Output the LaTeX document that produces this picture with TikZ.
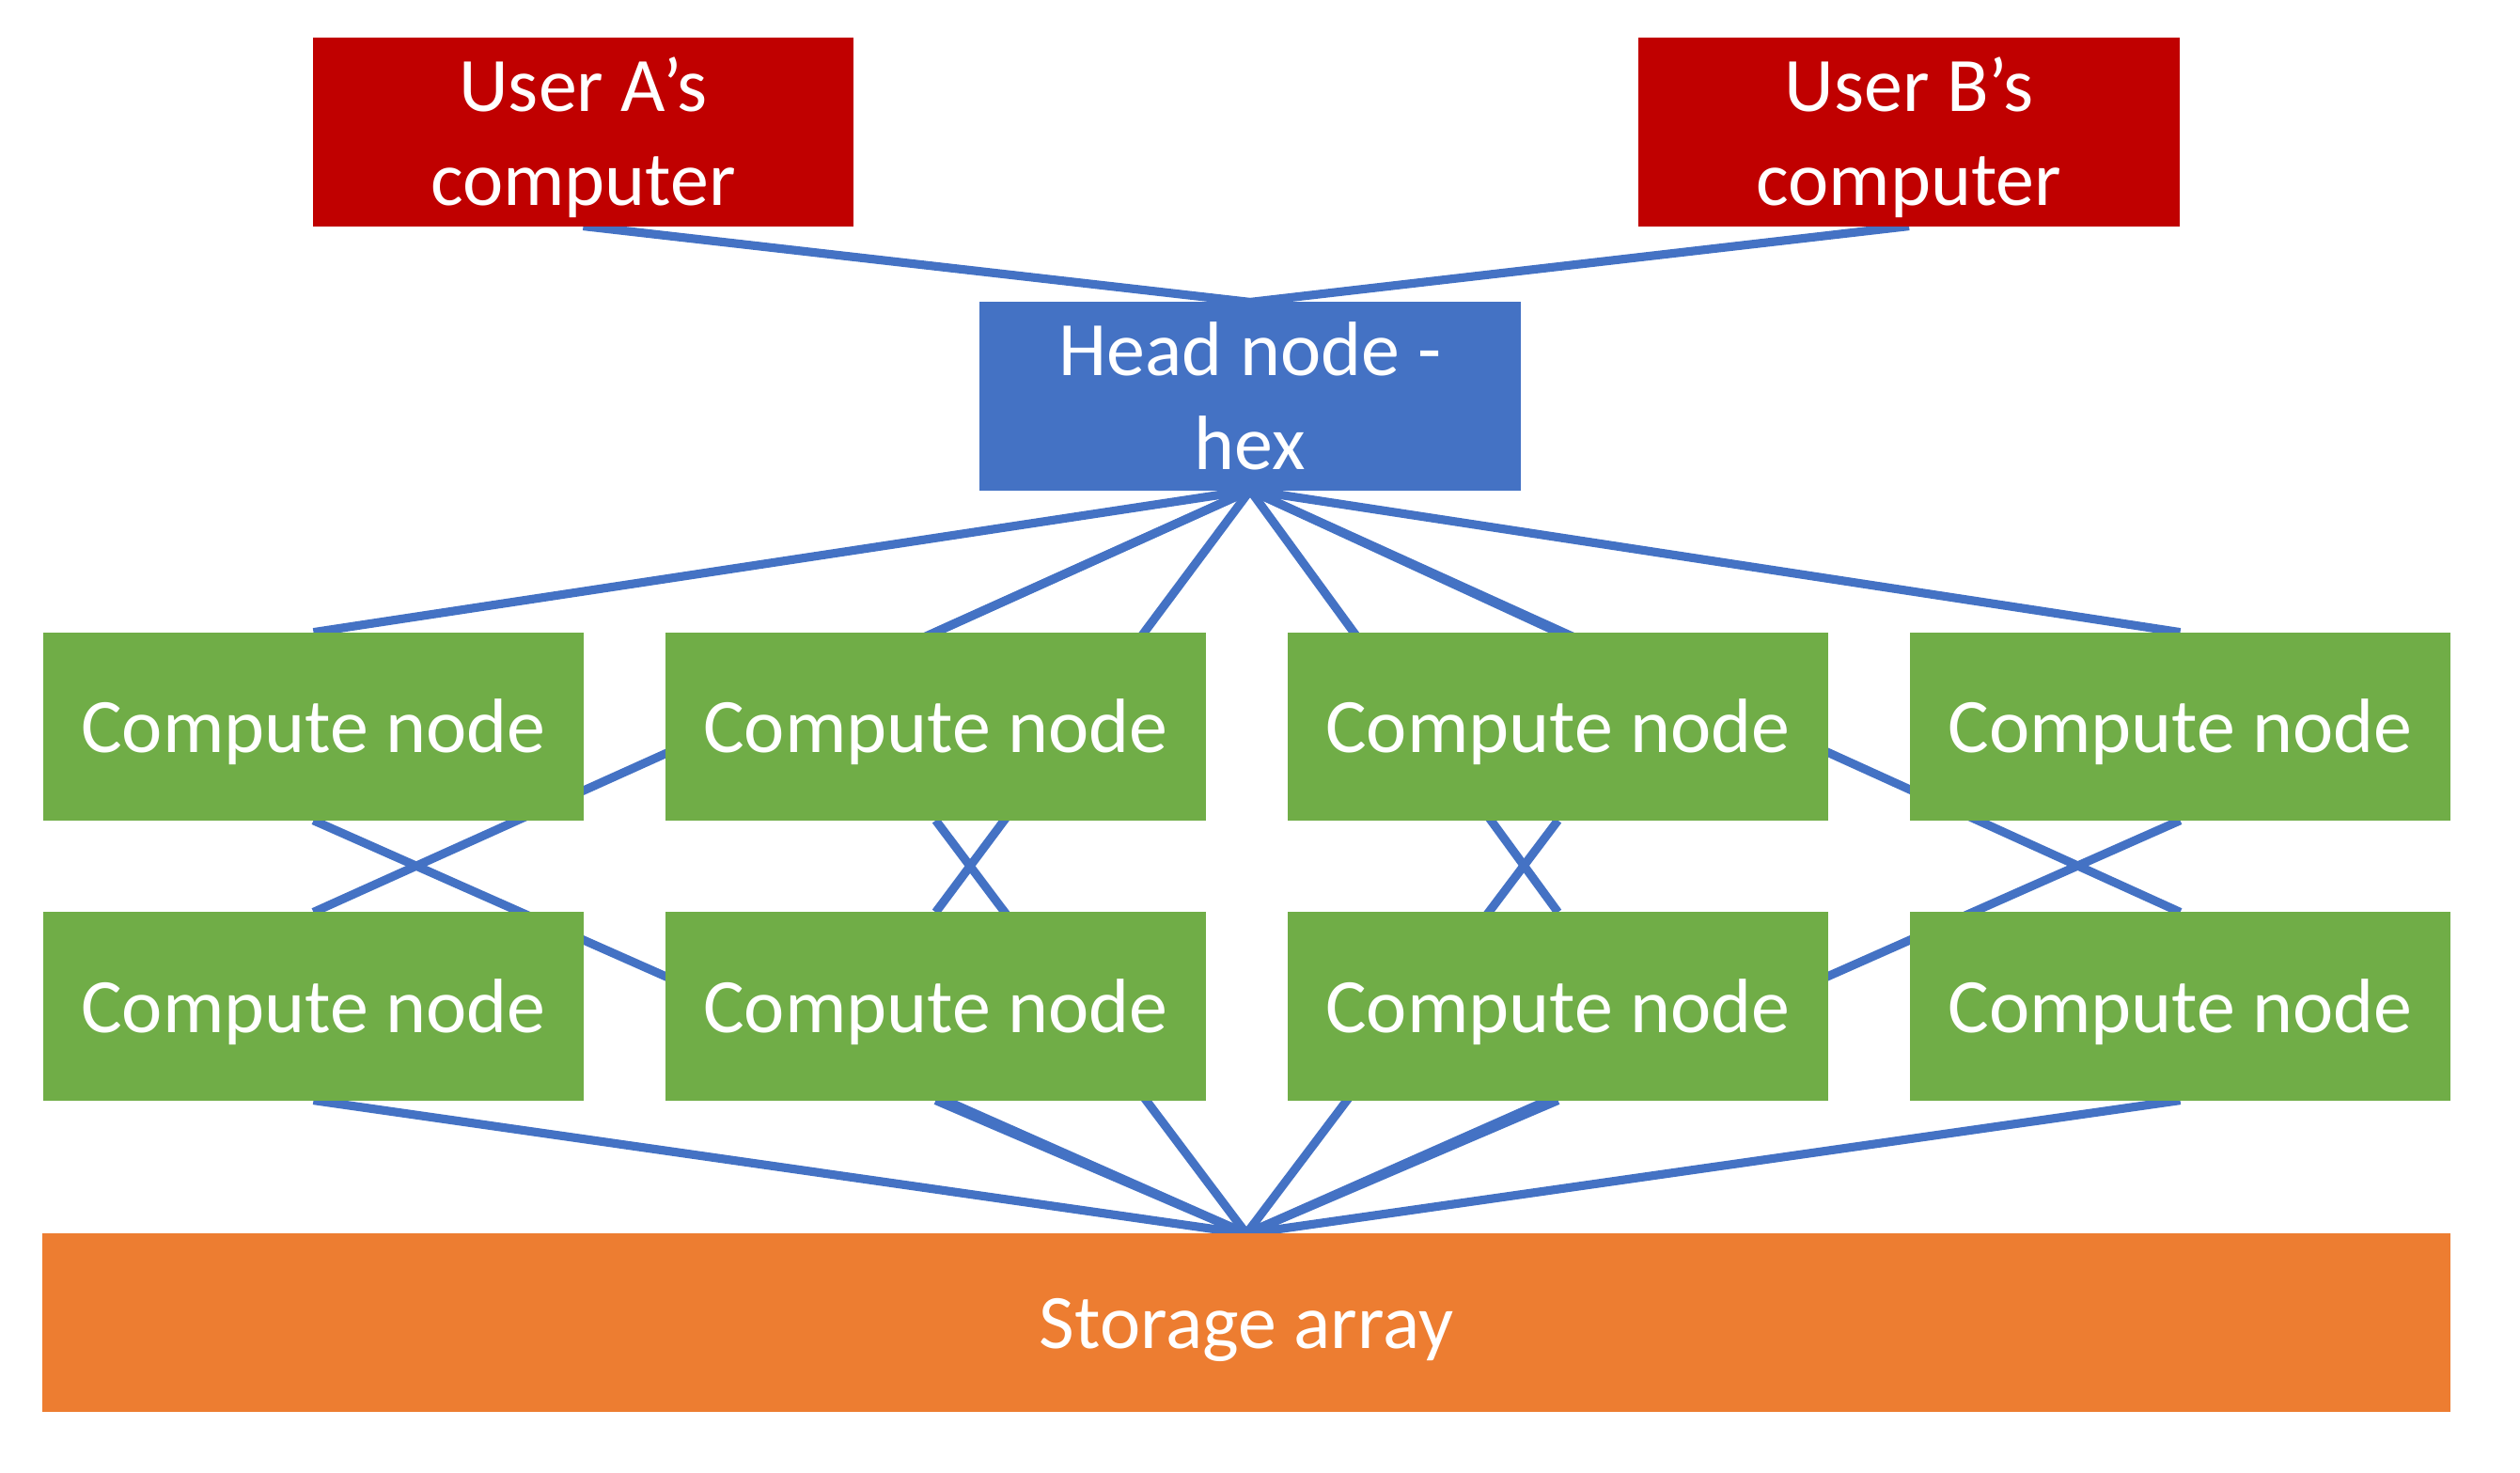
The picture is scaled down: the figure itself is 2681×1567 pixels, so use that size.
\documentclass[tikz,border=0pt]{standalone}
\usepackage{fontspec}
\setmainfont{Carlito}
\usetikzlibrary{backgrounds}

\definecolor{userred}{HTML}{C00000}
\definecolor{headblue}{HTML}{4472C4}
\definecolor{computegreen}{HTML}{70AD47}
\definecolor{storageorange}{HTML}{ED7D31}

% strut for each text line, so lines sit as in the slide
\newcommand{\boxstrut}{\vrule height 21.8pt depth 6pt width 0pt}

\begin{document}
\begin{tikzpicture}[x=0.01cm, y=-0.01cm,
	box/.style={inner sep=0pt, outer sep=0pt, minimum width=5.75cm, minimum height=2cm,
		text=white, align=center, font=\fontsize{23.3}{28.45}\selectfont},
	user/.style={box, fill=userred},
	head/.style={box, fill=headblue},
	compute/.style={box, fill=computegreen},
	storage/.style={box, fill=storageorange, minimum width=25.6cm, minimum height=1.89cm},
	link/.style={draw=headblue, line width=2.6pt}]

	\useasboundingbox (0,0) rectangle (2681,1567);

	\node[user] (userA) at (620.5,140.5) {\boxstrut User A’s\\\boxstrut computer};
	\node[user] (userB) at (2031,140.5)  {\boxstrut User B’s\\\boxstrut computer};
	\node[head] (head)  at (1330,421.5)  {\boxstrut Head node -\\\boxstrut hex};

	\foreach \i/\x in {1/333.5, 2/995.5, 3/1657.5, 4/2319.5} {
		\node[compute] (top\i) at (\x,772.7)  {\boxstrut Compute node};
		\node[compute] (bot\i) at (\x,1070.5) {\boxstrut Compute node};
	}

	\node[storage] (storage) at (1326,1407) {\boxstrut Storage array};

\begin{scope}[on background layer]

	\draw[link] (userA.south) -- (head.north);
	\draw[link] (userB.south) -- (head.north);

	\foreach \i in {1,...,4} {
		\draw[link] (head.south) -- (top\i.north);
		\draw[link] (head.south) -- (bot\i.north);
		\draw[link] (top\i.south) -- (storage.north);
		\draw[link] (bot\i.south) -- (storage.north);
	}

\end{scope}

\end{tikzpicture}
\end{document}
